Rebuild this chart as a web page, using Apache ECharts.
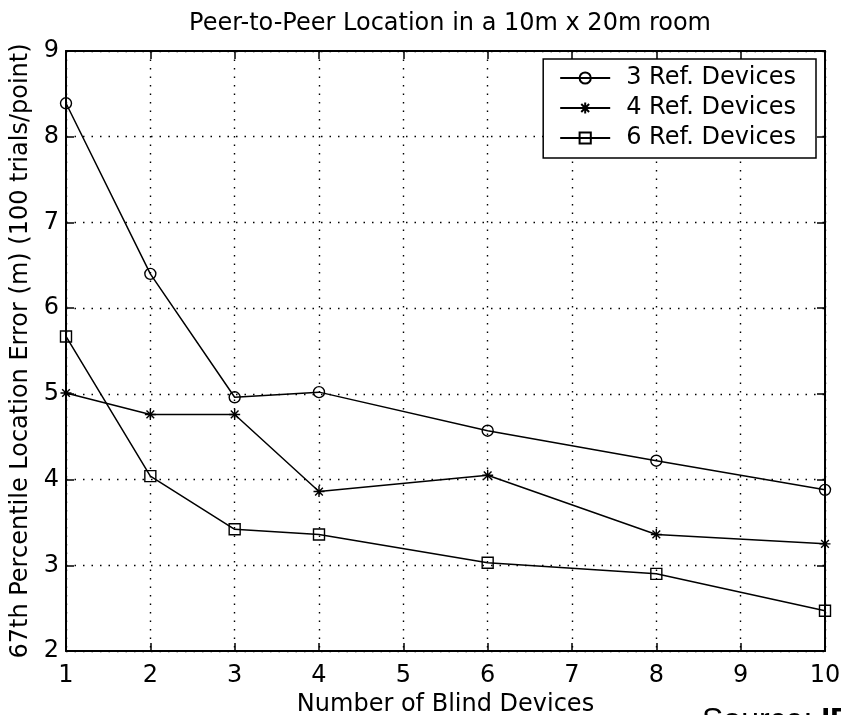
<!DOCTYPE html>
<html>
<head>
<meta charset="utf-8">
<script src="https://cdn.jsdelivr.net/npm/echarts@6/dist/echarts.min.js"></script>
<style>
  html, body { margin: 0; padding: 0; background: #fff; }
  #chart { width: 841px; height: 715px; }
</style>
</head>
<body>
<div id="chart"></div>
<script>
// Number of blind devices at which each configuration was evaluated
const blindDevices = [1, 2, 3, 4, 6, 8, 10];
// 67th percentile location error (m) per configuration
const ref3 = [8.39, 6.40, 4.96, 5.02, 4.57, 4.22, 3.88];
const ref4 = [5.01, 4.76, 4.76, 3.86, 4.05, 3.36, 3.25];
const ref6 = [5.67, 4.04, 3.42, 3.36, 3.03, 2.90, 2.47];
const seriesNames = ['3 Ref. Devices', '4 Ref. Devices', '6 Ref. Devices'];
const xTicks = [1, 2, 3, 4, 5, 6, 7, 8, 9, 10];
const yTicks = [2, 3, 4, 5, 6, 7, 8, 9];

const FONT = '"DejaVu Sans", "Liberation Sans", Arial, sans-serif';
const INK = '#000';
const FS = 24;

// Asterisk marker drawn as stroked strokes only
const asterisk = 'path://M0,-10L0,10M-10,0L10,0M-7,-7L7,7M-7,7L7,-7';

function pairs(vals) {
  return blindDevices.map((x, i) => [x, vals[i]]);
}

function lineSeries(name, vals, symbol, size, fill) {
  return {
    name: name,
    type: 'line',
    data: pairs(vals),
    symbol: symbol,
    symbolSize: size,
    showAllSymbol: true,
    lineStyle: { color: INK, width: 1.5 },
    itemStyle: { color: fill, borderColor: INK, borderWidth: 1.4 },
    emphasis: { disabled: true },
    animation: false,
    z: 3
  };
}

const chart = echarts.init(document.getElementById('chart'), null, { renderer: 'canvas' });

const gridDotted = { show: true, lineStyle: { color: INK, type: [1.5, 7], width: 1.4 } };
const boxLine = { show: true, onZero: false, lineStyle: { color: INK, width: 2 } };
const inTicks = { show: true, inside: true, length: 8, lineStyle: { color: INK, width: 1.5 } };

chart.setOption({
  backgroundColor: '#fff',
  animation: false,
  title: {
    text: 'Peer-to-Peer Location in a 10m x 20m room',
    left: 445,
    textAlign: 'center',
    top: 7,
    textStyle: { fontFamily: FONT, fontSize: FS, fontWeight: 'normal', color: INK }
  },
  legend: {
    data: seriesNames,
    orient: 'vertical',
    right: 25,
    top: 59,
    itemWidth: 50,
    itemHeight: 14,
    itemGap: 6,
    padding: [7, 20, 8, 16],
    backgroundColor: '#fff',
    borderColor: INK,
    borderWidth: 1.5,
    borderRadius: 0,
    textStyle: { fontFamily: FONT, fontSize: FS, color: INK, padding: [0, 0, 0, 11] },
    inactiveColor: INK,
    selectedMode: false,
    z: 10
  },
  grid: { left: 66, right: 16, top: 51, bottom: 64, containLabel: false, outerBoundsMode: 'none' },
  xAxis: [
    {
      type: 'value', min: 1, max: 10, interval: 1,
      name: 'Number of Blind Devices',
      nameLocation: 'middle', nameGap: 42,
      nameTextStyle: { fontFamily: FONT, fontSize: FS, color: INK },
      axisLine: boxLine,
      axisTick: inTicks,
      axisLabel: { fontFamily: FONT, fontSize: FS, color: INK, margin: 13,
        formatter: v => (xTicks.includes(v) ? String(v) : '') },
      splitLine: gridDotted
    },
    {
      type: 'value', min: 1, max: 10, interval: 1, position: 'top',
      axisLine: boxLine,
      axisTick: inTicks,
      axisLabel: { show: false },
      splitLine: { show: false }
    }
  ],
  yAxis: [
    {
      type: 'value', min: 2, max: 9, interval: 1,
      name: '67th Percentile Location Error (m) (100 trials/point)',
      nameLocation: 'middle', nameGap: 26,
      nameTextStyle: { fontFamily: FONT, fontSize: FS, color: INK },
      axisLine: boxLine,
      axisTick: inTicks,
      axisLabel: { fontFamily: FONT, fontSize: FS, color: INK, margin: 7,
        formatter: v => (yTicks.includes(v) ? String(v) : '') },
      splitLine: gridDotted
    },
    {
      type: 'value', min: 2, max: 9, interval: 1, position: 'right',
      axisLine: boxLine,
      axisTick: inTicks,
      axisLabel: { show: false },
      splitLine: { show: false }
    }
  ],
  series: [
    lineSeries(seriesNames[0], ref3, 'circle', 11, 'rgba(0,0,0,0)'),
    lineSeries(seriesNames[1], ref4, asterisk, 11, INK),
    lineSeries(seriesNames[2], ref6, 'rect', 11, 'rgba(0,0,0,0)')
  ],
  graphic: [
    {
      type: 'text',
      left: 702,
      top: 705,
      style: {
        text: '{n|Source: }{b|IEEE}',
        rich: {
          n: { fontFamily: '"Liberation Sans", Arial, sans-serif', fontSize: 32, fill: INK },
          b: { fontFamily: '"Liberation Sans", Arial, sans-serif', fontSize: 32, fontWeight: 'bold', fill: INK }
        }
      },
      silent: true
    }
  ]
});
</script>
</body>
</html>
